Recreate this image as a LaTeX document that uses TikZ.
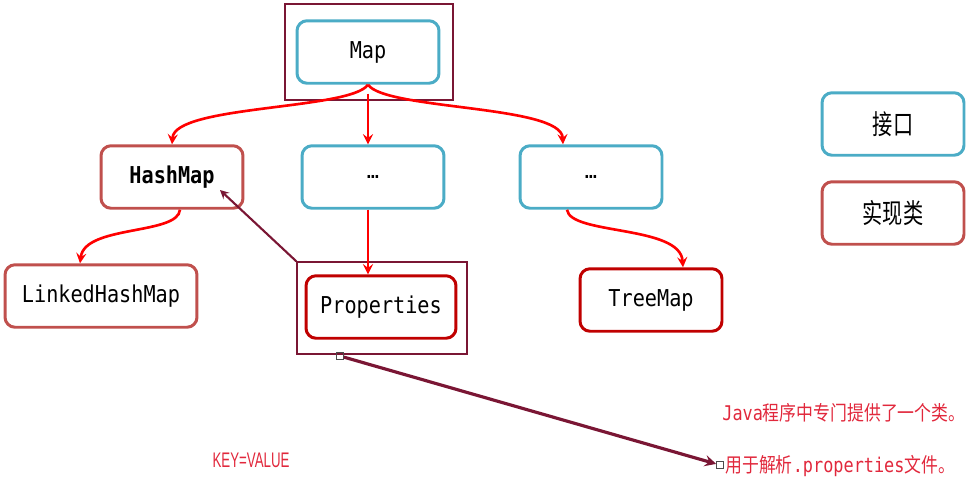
\documentclass[tikz,border=0pt]{standalone}
\usepackage{fontspec}
\setmainfont{Liberation Sans}
\setmonofont{DejaVu Sans Mono}
\newfontfamily\cjk{Noto Sans CJK SC}
\newcommand{\stretched}[2][1.15]{\scalebox{1}[#1]{#2}}
\definecolor{ifaceblue}{RGB}{75,172,198}
\definecolor{implred}{RGB}{192,80,77}
\definecolor{keyred}{RGB}{192,0,0}
\definecolor{linkred}{RGB}{255,0,0}
\definecolor{framered}{RGB}{122,22,52}
\definecolor{notered}{RGB}{225,40,60}
\tikzset{
	box/.style={draw, rounded corners=0.2cm, line width=1.7pt, minimum width=2.84cm, minimum height=1.25cm, fill=white, font=\ttfamily\fontsize{11.5}{14}\selectfont},
	iface/.style={box, draw=ifaceblue},
	impl/.style={box, draw=implred},
	implkey/.style={box, draw=keyred},
	legend/.style={font=\cjk\fontsize{11.5}{14}\selectfont},
	selbox/.style={draw=framered, line width=0.8pt, inner sep=0pt},
	link/.style={draw=linkred, line width=1.5pt, -stealth},
	pointer/.style={draw=framered, line width=1.2pt, -stealth},
	handle/.style={draw=black!70, line width=0.4pt, minimum size=4pt, inner sep=0pt},
	note/.style={text=notered, anchor=west, inner sep=0pt, font=\fontsize{9.6}{12}\selectfont}
}

\begin{document}
\begin{tikzpicture}[x=0.02cm, y=-0.02cm]
		%%%%% START %%%%%
		\useasboundingbox (0,0) rectangle (973,491);
		
		\node[selbox, minimum width=3.36cm, minimum height=1.92cm] (mapsel) at (369,52) {};
		\node[selbox, minimum width=3.4cm, minimum height=1.84cm] (propsel) at (382,308) {};
		
		\node[iface] (map) at (368,52) {\stretched{Map}};
		\node[impl] (hashmap) at (172,177) {\stretched{\bfseries HashMap}};
		\node[iface] (dotsm) at (373,177) {…};
		\node[iface] (dotsr) at (591,177) {…};
		\node[impl, minimum width=3.84cm] (linked) at (101,296) {\stretched{LinkedHashMap}};
		\node[implkey, minimum width=3.0cm] (props) at (381,307) {\stretched{Properties}};
		\node[implkey] (treemap) at (651,300) {\stretched{TreeMap}};
		
		\node[iface, legend] (legiface) at (893,124) {\stretched[1.35]{接口}};
		\node[impl, legend] (legimpl) at (893,213) {\stretched[1.35]{实现类}};
		
		\draw[link] (map.south) .. controls (350,110) and (175,105) .. (hashmap.north);
		\draw[link] ([yshift=-0.18cm]map.south) -- (map.south |- dotsm.north);
		\draw[link] (map.south) .. controls (386,110) and (561,105) .. ([xshift=-0.56cm]dotsr.north);
		
		\draw[link] ([xshift=0.16cm]hashmap.south) .. controls (178,235) and (85,225) .. ([xshift=-0.42cm]linked.north);
		\draw[link] (map.south |- dotsm.south) -- (map.south |- props.north);
		\draw[link] ([xshift=-0.48cm]dotsr.south) .. controls (570,235) and (680,225) .. ([xshift=0.64cm]treemap.north);
		
		\coordinate (hmtip) at (220,190);
		\draw[pointer] (propsel.north west) -- (hmtip);
		
		\node[handle] (hstart) at (340,356) {};
		\node[handle] (hend) at (720,465) {};
		\draw[pointer, line width=1.8pt] (hstart) -- (hend);
		
		\node[text=notered, font=\fontsize{12}{14}\selectfont, xscale=0.63, transform shape] (keyval) at (251,460) {KEY=VALUE};
		\node[note] (noteone) at (722,413) {\stretched[1.2]{\ttfamily Java\cjk 程序中专门提供了一个类。}};
		\node[note] (notetwo) at (725,466) {\stretched[1.2]{\cjk 用于解析\ttfamily .properties\cjk 文件。}};
		
		%%%%% END %%%%%
\end{tikzpicture}
\end{document}
